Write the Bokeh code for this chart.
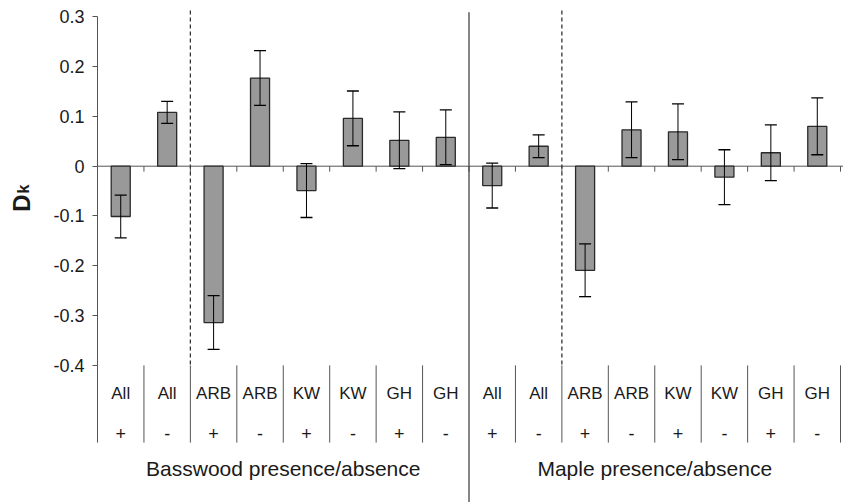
import math
from bokeh.plotting import figure
from bokeh.models import (ColumnDataSource, Range1d, FixedTicker, CustomJSTickFormatter,
                          Whisker, TeeHead, Label)
from bokeh.core.properties import value
from bokeh.embed import file_html
from bokeh.resources import INLINE

# ---- data ----
categories = ["All", "All", "ARB", "ARB", "KW", "KW", "GH", "GH",
              "All", "All", "ARB", "ARB", "KW", "KW", "GH", "GH"]
signs = ["+", "-", "+", "-", "+", "-", "+", "-",
         "+", "-", "+", "-", "+", "-", "+", "-"]
groups = ["Basswood presence/absence", "Maple presence/absence"]
dk_values = [-0.101, 0.108, -0.314, 0.177, -0.049, 0.096, 0.052, 0.058,
             -0.039, 0.040, -0.209, 0.073, 0.069, -0.022, 0.027, 0.080]
dk_errors = [0.043, 0.022, 0.054, 0.055, 0.054, 0.055, 0.057, 0.055,
             0.045, 0.023, 0.053, 0.056, 0.056, 0.055, 0.056, 0.057]
y_ticks = [-0.4, -0.3, -0.2, -0.1, 0.0, 0.1, 0.2, 0.3]

FONT = "Liberation Sans"
TEXT = "#1a1a1a"
LINE = "#555555"

n = len(dk_values)
per_group = n // len(groups)
xs = [i + 0.5 for i in range(n)]

# layout constants (pixels)
W, H = 843, 502
LEFT_PX = 97
UNIT_PX = 743 / n
x_start = -LEFT_PX / UNIT_PX
x_end = (W - LEFT_PX) / UNIT_PX

p = figure(width=W, height=H, output_backend="svg", toolbar_location=None,
           x_range=Range1d(x_start, x_end), y_range=Range1d(-0.6753, 0.3327),
           min_border_left=0, min_border_right=0, min_border_top=0, min_border_bottom=0)
p.outline_line_color = None
p.grid.visible = False
p.xaxis.visible = False
p.background_fill_color = "white"
p.border_fill_color = "white"

yax = p.yaxis[0]
yax.fixed_location = 0
yax.ticker = FixedTicker(ticks=y_ticks)
yax.bounds = (min(y_ticks), max(y_ticks))
yax.formatter = CustomJSTickFormatter(code="return Math.abs(tick) < 1e-9 ? '0' : tick.toFixed(1);")
yax.major_tick_out = 5
yax.major_tick_in = 0
yax.minor_tick_line_color = None
yax.axis_line_color = LINE
yax.major_tick_line_color = LINE
yax.major_label_text_font = FONT
yax.major_label_text_font_size = "18px"
yax.major_label_text_color = TEXT
yax.major_label_standoff = 8

ymin = min(y_ticks)
row_cat = -0.4564
row_sign = -0.5367
row_group = -0.607
row_bottom = -0.555
tick_len = 0.011
top_line = 0.3127

# zero line and boundary ticks
p.segment(x0=[0], x1=[x_end], y0=[0], y1=[0], line_color=LINE, line_width=1)
p.segment(x0=list(range(1, n + 1)), x1=list(range(1, n + 1)),
          y0=[0] * n, y1=[-tick_len] * n, line_color=LINE, line_width=1)

# bars
src = ColumnDataSource(dict(x=xs, top=dk_values,
                            upper=[v + e for v, e in zip(dk_values, dk_errors)],
                            lower=[v - e for v, e in zip(dk_values, dk_errors)]))
p.vbar(x="x", top="top", bottom=0, width=0.41, source=src,
       fill_color="#999999", line_color="#2a2a2a", line_width=1.3)

w = Whisker(base="x", upper="upper", lower="lower", source=src, dimension="height",
            line_color="black", line_width=1, level="overlay",
            upper_head=TeeHead(size=12, line_color="black", line_width=1.3),
            lower_head=TeeHead(size=12, line_color="black", line_width=1.3))
p.add_layout(w)

# separators: dashed within groups, solid between groups
dash_x = [2, 10]
p.segment(x0=dash_x, x1=dash_x, y0=[top_line] * 2, y1=[ymin] * 2,
          line_color="#333333", line_width=1.3, line_dash="4 3")
p.segment(x0=[per_group], x1=[per_group], y0=[0.309], y1=[-0.6753],
          line_color="#444444", line_width=1.3)

# table dividers
div_x = [i for i in range(n + 1) if i != per_group]
p.segment(x0=div_x, x1=div_x, y0=[ymin] * len(div_x), y1=[row_bottom] * len(div_x),
          line_color=LINE, line_width=1)

# table text
p.text(x=xs, y=[row_cat] * n, text=categories, text_align="center", text_baseline="middle",
       text_font=value(FONT), text_font_size="17px", text_color=TEXT)
p.text(x=xs, y=[row_sign] * n, text=signs, text_align="center", text_baseline="middle",
       text_font=value(FONT), text_font_size="18px", text_color=TEXT)
p.text(x=[per_group / 2, per_group * 1.5], y=[row_group] * 2, text=groups,
       text_align="center", text_baseline="middle",
       text_font=value(FONT), text_font_size="21px", text_color=TEXT)

# y axis title D_k
p.add_layout(Label(x=21, y=-0.0915, x_units="screen", y_units="data", text="D",
                   angle=math.pi / 2, text_align="left", text_baseline="alphabetic",
                   text_font=FONT, text_font_size="24px", text_font_style="bold",
                   text_color=TEXT))
p.add_layout(Label(x=23, y=-0.055, x_units="screen", y_units="data", text="k",
                   angle=math.pi / 2, text_align="left", text_baseline="alphabetic",
                   text_font=FONT, text_font_size="16px", text_font_style="bold",
                   text_color=TEXT))

open("out.html", "w").write(file_html(p, INLINE))
